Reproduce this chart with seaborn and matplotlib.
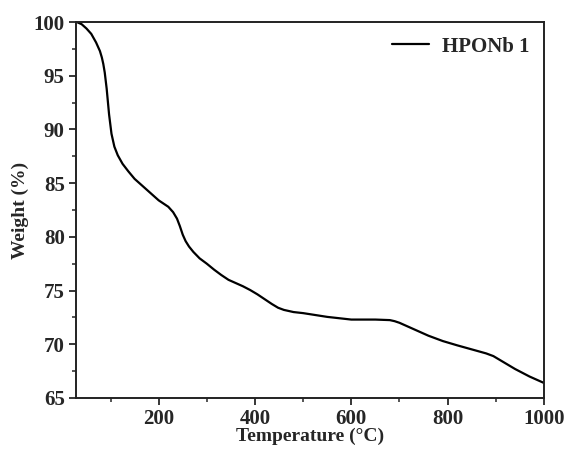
import matplotlib
matplotlib.use("Agg")
import matplotlib.pyplot as plt
import seaborn as sns
import pandas as pd
from matplotlib.ticker import MultipleLocator

temperature = [30, 40, 50, 60, 70, 78, 82, 85, 88, 92, 97, 102, 108, 115, 125, 137,
               150, 170, 200, 220, 230, 238, 244, 250, 256, 263, 272, 285, 300, 315,
               330, 345, 360, 375, 390, 405, 420, 435, 448, 460, 480, 500, 550, 600,
               650, 680, 690, 700, 710, 720, 735, 760, 790, 820, 860, 880, 895, 910,
               925, 940, 970, 1000]
weight = [100.0, 99.8, 99.4, 98.9, 98.1, 97.3, 96.7, 96.1, 95.3, 93.8, 91.4, 89.6,
          88.4, 87.6, 86.8, 86.1, 85.4, 84.6, 83.4, 82.8, 82.3, 81.7, 81.0, 80.2,
          79.6, 79.1, 78.6, 78.0, 77.5, 76.95, 76.45, 76.0, 75.7, 75.4, 75.05, 74.65,
          74.2, 73.75, 73.4, 73.2, 73.0, 72.9, 72.55, 72.3, 72.3, 72.25, 72.15, 72.0,
          71.8, 71.6, 71.3, 70.8, 70.3, 69.9, 69.4, 69.15, 68.9, 68.5, 68.1, 67.7,
          67.0, 66.4]
series_name = "HPONb 1"

df = pd.DataFrame({"Temperature": temperature, "Weight": weight, "Sample": series_name})

sns.set_style("white")
plt.rcParams['font.family'] = ['Liberation Serif', 'DejaVu Serif']
plt.rcParams['font.weight'] = 'bold'

fig = plt.figure(figsize=(5.66, 4.5), dpi=100)
ax = fig.add_axes([0.134, 0.1156, 0.827, 0.8354])

sns.lineplot(data=df, x="Temperature", y="Weight", hue="Sample",
             palette=["black"], linewidth=1.6, ax=ax, sort=False)

ax.set_xlim(28, 1000)
ax.set_ylim(65, 100)
ax.xaxis.set_major_locator(MultipleLocator(200))
ax.xaxis.set_minor_locator(MultipleLocator(100))
ax.yaxis.set_major_locator(MultipleLocator(5))
ax.yaxis.set_minor_locator(MultipleLocator(2.5))

ax.tick_params(axis='both', which='major', direction='out', length=5, width=1.3,
               labelsize=15, bottom=True, left=True, top=False, right=False, pad=3)
ax.tick_params(axis='both', which='minor', direction='out', length=3, width=1.1,
               bottom=True, left=True, top=False, right=False)
for lab in ax.get_xticklabels() + ax.get_yticklabels():
    lab.set_fontweight('bold')

for sp in ax.spines.values():
    sp.set_visible(True)
    sp.set_linewidth(1.4)
    sp.set_color('#222222')

ax.set_xlabel("Temperature (°C)", fontsize=14, fontweight='bold', labelpad=-1)
ax.set_ylabel("Weight (%)", fontsize=14, fontweight='bold', labelpad=3)

leg = ax.legend(loc='upper right', frameon=False, fontsize=15, handlelength=1.8,
                handletextpad=0.6, borderaxespad=0.3)
leg.set_title(None)
for t in leg.get_texts():
    t.set_fontweight('bold')

fig.savefig("out.png", dpi=100)
